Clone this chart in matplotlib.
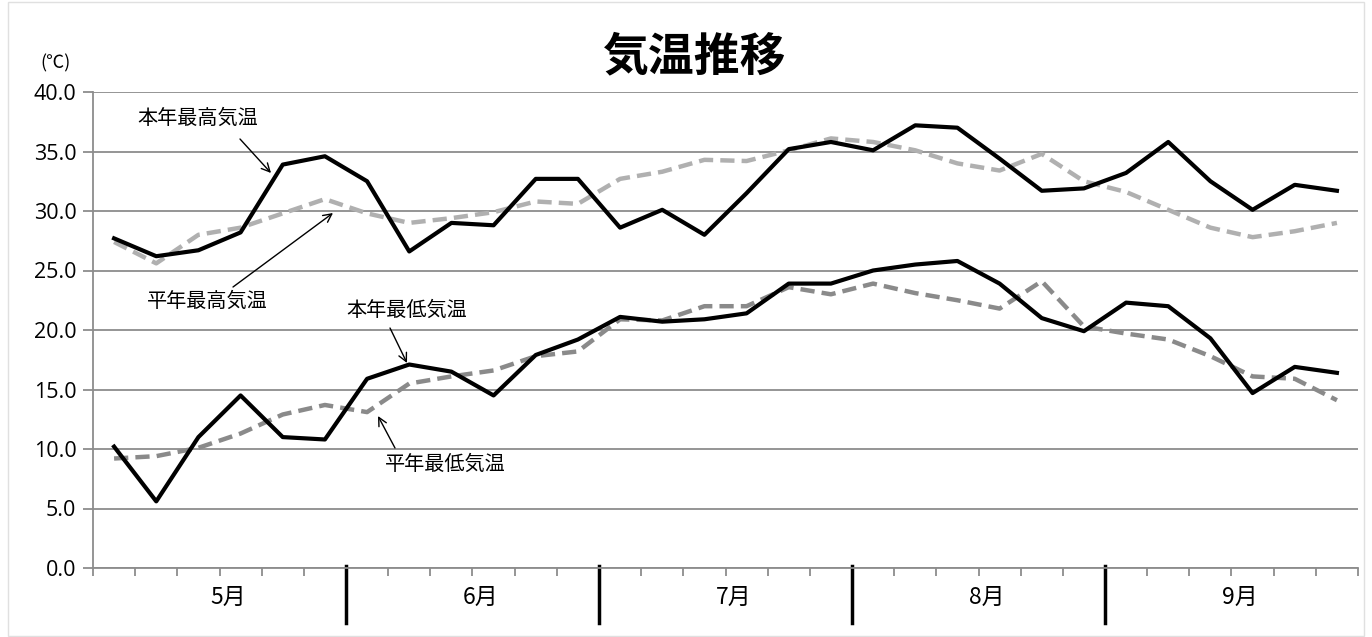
import matplotlib
matplotlib.use("Agg")
import matplotlib.pyplot as plt
from matplotlib.transforms import blended_transform_factory

plt.rcParams['font.family'] = ['Noto Sans CJK JP', 'DejaVu Sans']

months = ["5月", "6月", "7月", "8月", "9月"]
periods_per_month = 6
yticks = [0, 5, 10, 15, 20, 25, 30, 35, 40]

max_this_year = [27.7, 26.2, 26.7, 28.2, 33.9, 34.6,
                 32.5, 26.6, 29.0, 28.8, 32.7, 32.7,
                 28.6, 30.1, 28.0, 31.5, 35.2, 35.8,
                 35.1, 37.2, 37.0, 34.4, 31.7, 31.9,
                 33.2, 35.8, 32.5, 30.1, 32.2, 31.7]
max_normal = [27.4, 25.6, 28.0, 28.6, 29.8, 31.0,
              29.8, 29.0, 29.4, 29.9, 30.8, 30.6,
              32.7, 33.3, 34.3, 34.2, 35.1, 36.1,
              35.8, 35.1, 34.0, 33.4, 34.8, 32.5,
              31.6, 30.1, 28.6, 27.8, 28.3, 29.0]
min_this_year = [10.2, 5.6, 11.0, 14.5, 11.0, 10.8,
                 15.9, 17.1, 16.5, 14.5, 17.9, 19.2,
                 21.1, 20.7, 20.9, 21.4, 23.9, 23.9,
                 25.0, 25.5, 25.8, 23.9, 21.0, 19.9,
                 22.3, 22.0, 19.3, 14.7, 16.9, 16.4]
min_normal = [9.2, 9.4, 10.1, 11.3, 12.9, 13.7,
              13.1, 15.5, 16.1, 16.6, 17.8, 18.2,
              20.9, 20.8, 22.0, 22.0, 23.6, 23.0,
              23.9, 23.1, 22.5, 21.8, 24.1, 20.3,
              19.7, 19.2, 17.8, 16.1, 15.9, 14.1]

labels = {
    "max_this": "本年最高気温",
    "max_norm": "平年最高気温",
    "min_this": "本年最低気温",
    "min_norm": "平年最低気温",
}

n = len(max_this_year)
x = list(range(n))

fig = plt.figure(figsize=(13.72, 6.37), dpi=100)
ax = fig.add_axes([93/1372, 1-568/637, (1358-93)/1372, (568-92)/637])

grid_col = "#8c8c8c"
ax.plot(x, max_normal, color="#b0b0b0", lw=3.2, dashes=(3.2, 1.6), zorder=3)
ax.plot(x, min_normal, color="#8a8a8a", lw=3.2, dashes=(3.2, 1.6), zorder=3)
ax.plot(x, max_this_year, color="black", lw=3.0, zorder=4)
ax.plot(x, min_this_year, color="black", lw=3.0, zorder=4)

ax.set_xlim(-0.5, n - 0.5)
ax.set_ylim(0, 40)
ax.set_yticks(yticks)
ax.set_yticklabels([f"{v:.1f}" for v in yticks], fontsize=15.5, family=['Open Sans', 'DejaVu Sans'])
ax.yaxis.grid(True, color=grid_col, lw=1.3)
ax.set_axisbelow(True)
for s in ["top", "right"]:
    ax.spines[s].set_visible(False)
for s in ["left", "bottom"]:
    ax.spines[s].set_color(grid_col)
    ax.spines[s].set_linewidth(1.3)
ax.tick_params(axis='y', length=7, color=grid_col, width=1.3, pad=5)

# category boundary ticks
ax.set_xticks([i - 0.5 for i in range(n + 1)])
ax.set_xticklabels([])
ax.tick_params(axis='x', length=6, color=grid_col, width=1.3)

trans = blended_transform_factory(ax.transData, ax.transAxes)
for m in range(1, len(months)):
    bx = m * periods_per_month - 0.5
    ax.plot([bx, bx], [0.005, -0.115], color="black", lw=2.5, transform=trans, clip_on=False)
for m, name in enumerate(months):
    cx = m * periods_per_month + (periods_per_month - 1) / 2 + 0.2
    ax.text(cx, -0.062, name, transform=trans, ha="center", va="center", fontsize=16.5)

fig.text(695/1372, 1-57/637, "気温推移", ha="center", va="center", fontsize=33, fontweight="bold")
fig.text(56/1372, 1-63/637, "(℃)", ha="center", va="center", fontsize=13)

def ann(txt, text_xy, tail_xy, head_xy):
    fig.text(text_xy[0]/1372, 1-text_xy[1]/637, txt, ha="center", va="center", fontsize=14.5)
    fig.add_artist(matplotlib.patches.FancyArrowPatch(
        (tail_xy[0]/1372, 1-tail_xy[1]/637), (head_xy[0]/1372, 1-head_xy[1]/637),
        transform=fig.transFigure, arrowstyle="->,head_length=6,head_width=3",
        color="black", lw=1.0, shrinkA=0, shrinkB=0, zorder=6))

ann(labels["max_this"], (198, 118), (240, 139), (271, 173))
ann(labels["max_norm"], (207, 301), (233, 287), (333, 213))
ann(labels["min_this"], (407, 310), (390, 328), (407, 363))
ann(labels["min_norm"], (445, 464), (395, 448), (378, 416))

# outer border
fig.add_artist(matplotlib.patches.Rectangle((8/1372, 0.002), 1-16/1372, 0.995,
               transform=fig.transFigure, fill=False, edgecolor="#e0e0e0", lw=1.0))

fig.savefig("out.png", dpi=100, facecolor="white")
